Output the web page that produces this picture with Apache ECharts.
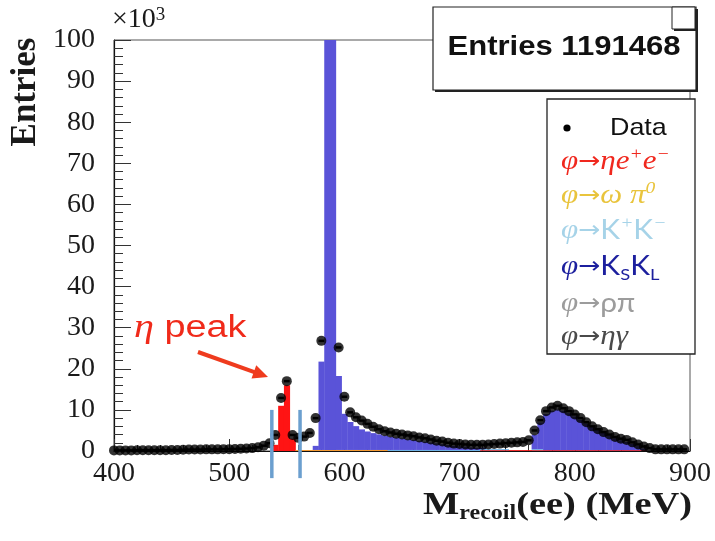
<!DOCTYPE html>
<html>
<head>
<meta charset="utf-8">
<script src="https://cdn.jsdelivr.net/npm/echarts@6/dist/echarts.min.js"></script>
<style>
  html, body { margin: 0; padding: 0; background: #fff; }
  #chart { width: 715px; height: 541px; }
</style>
</head>
<body>
<div id="chart"></div>
<script>
// Recoil-mass histogram: 5 MeV bins centred on multiples of 5 MeV, counts in units of 10^3
const binStart = 400;
const binWidth = 5;

// Measured entries per bin (x10^3), bins 400 ... 895 MeV
const dataCounts = [
  0.15, 0.15, 0.15, 0.15, 0.2, 0.2, 0.2, 0.2, 0.2, 0.2,
  0.25, 0.25, 0.3, 0.35, 0.35, 0.35, 0.4, 0.4, 0.4, 0.45,
  0.45, 0.5, 0.55, 0.6, 0.7, 0.9, 1.3, 1.9, 3.9, 12.9,
  17.0, 3.9, 3.2, 3.5, 4.4, 8.0, 26.8, 165, 140, 25.2,
  13.2, 9.4, 8.2, 7.4, 6.6, 5.9, 5.3, 4.8, 4.5, 4.2,
  4.0, 3.8, 3.6, 3.3, 3.1, 2.8, 2.5, 2.3, 2.0, 1.8,
  1.7, 1.6, 1.5, 1.5, 1.5, 1.6, 1.7, 1.8, 1.9, 2.0,
  2.1, 2.2, 2.6, 5.0, 7.5, 9.7, 10.6, 11.0, 10.4, 9.7,
  8.9, 8.0, 7.0, 6.0, 5.3, 4.6, 4.0, 3.4, 3.0, 2.7,
  2.1, 1.6, 1.1, 0.7, 0.4, 0.4, 0.4, 0.4, 0.4, 0.4
];

// Simulated components, [bin centre (MeV), entries x10^3], stacked bottom to top
const etaEE = [
  [540, 1.5], [545, 11.0], [550, 16.0], [555, 3.0],
  [720, 0.2], [725, 0.2], [730, 0.2], [735, 0.2], [740, 0.2], [745, 0.2], [750, 0.2],
  [755, 0.2], [760, 0.2], [765, 0.2], [770, 0.2], [775, 0.2], [780, 0.2], [785, 0.2],
  [790, 0.2], [795, 0.2], [800, 0.2], [805, 0.2], [810, 0.2], [815, 0.2], [820, 0.2],
  [825, 0.2], [830, 0.2], [835, 0.2], [840, 0.2], [845, 0.2], [850, 0.2], [855, 0.2], [860, 0.2]
];
const omegaPi0 = [
  [560, 0.25], [565, 0.25], [570, 0.25], [575, 0.25], [580, 0.25], [585, 0.25], [590, 0.25],
  [595, 0.25], [600, 0.25], [605, 0.25], [610, 0.25], [615, 0.25], [620, 0.25], [625, 0.25],
  [630, 0.25], [635, 0.25]
];
const kPlusKMinus = [
  [640, 0.25], [645, 0.25], [650, 0.25], [655, 0.25], [660, 0.25], [665, 0.25], [670, 0.25],
  [675, 0.25], [680, 0.25], [685, 0.25], [690, 0.25], [695, 0.25], [700, 0.25], [705, 0.25],
  [710, 0.25], [715, 0.25], [720, 0.25], [725, 0.25], [730, 0.25], [735, 0.25], [740, 0.25],
  [765, 0.25], [770, 0.25]
];
const kSkL = [
  [575, 1.0], [580, 21.5], [585, 160], [590, 135], [595, 18.0], [600, 8.8], [605, 6.8],
  [610, 5.8], [615, 5.0], [620, 4.5], [625, 4.1], [630, 3.8], [635, 3.5], [640, 3.2],
  [645, 3.0], [650, 2.8], [655, 2.6], [660, 2.4], [665, 2.2], [670, 2.0], [675, 1.8],
  [680, 1.6], [685, 1.4], [690, 1.2], [695, 1.0], [700, 0.9], [705, 0.8], [710, 0.6],
  [715, 0.5], [720, 0.3],
  [765, 3.5], [770, 6.5], [775, 8.8], [780, 9.6], [785, 9.9], [790, 9.6], [795, 9.0],
  [800, 8.2], [805, 7.4], [810, 6.5], [815, 5.6], [820, 4.9], [825, 4.2], [830, 3.5],
  [835, 2.9], [840, 2.4], [845, 2.0], [850, 1.5], [855, 1.0], [860, 0.4]
];
const rhoPi = [];
const etaGamma = [];

// Signal-window edges around the eta peak (MeV)
const etaWindow = [537, 561.5];

// Axis ticks
const xTicks = { min: 400, max: 900, step: 100 };
const yTicks = { min: 0, max: 100, step: 10 };

const components = [
  { name: 'φ→ηe+e−', bins: etaEE, color: '#ff1414' },
  { name: 'φ→ωπ0', bins: omegaPi0, color: '#f39a32' },
  { name: 'φ→K+K−', bins: kPlusKMinus, color: '#6eb2e6' },
  { name: 'φ→KSKL', bins: kSkL, color: '#5a53d8' },
  { name: 'φ→ρπ', bins: rhoPi, color: '#9a9a9a' },
  { name: 'φ→ηγ', bins: etaGamma, color: '#555555' }
];

function histItem(params, api) {
  const x = api.value(0), lo = api.value(1), hi = api.value(2);
  const a = api.coord([x - binWidth / 2, hi]);
  const b = api.coord([x + binWidth / 2, lo]);
  const cs = params.coordSys;
  const shape = echarts.graphic.clipRectByRect(
    { x: a[0], y: a[1], width: b[0] - a[0] + 0.4, height: b[1] - a[1] },
    { x: cs.x, y: cs.y, width: cs.width, height: cs.height }
  );
  return shape && { type: 'rect', shape: shape, style: { fill: api.visual('color') } };
}

const stackTop = {};
const histSeries = components.map(c => {
  const rows = c.bins.map(([x, v]) => {
    const lo = stackTop[x] || 0;
    stackTop[x] = lo + v;
    return [x, lo, lo + v];
  });
  return {
    type: 'custom', name: c.name, renderItem: histItem,
    encode: { x: 0, y: [1, 2] }, data: rows,
    itemStyle: { color: c.color }, silent: true, z: 2
  };
});

const dataPoints = dataCounts.map((v, i) => [binStart + i * binWidth, v]);

// Horizontal bin-width bars through each data point
const binBars = {
  type: 'custom', silent: true, z: 4, clip: true,
  data: dataPoints, encode: { x: 0, y: 1 },
  renderItem: function (params, api) {
    const x = api.value(0), y = api.value(1);
    const p0 = api.coord([x - binWidth / 2, y]);
    const p1 = api.coord([x + binWidth / 2, y]);
    return { type: 'line', shape: { x1: p0[0], y1: p0[1], x2: p1[0], y2: p1[1] },
             style: { stroke: '#000', lineWidth: 2.5 } };
  }
};

const windowSeries = {
  type: 'custom', silent: true, z: 6, clip: false,
  data: etaWindow.map(x => [x, 10, -6.6]),
  encode: { x: 0, y: [1, 2] },
  renderItem: function (params, api) {
    const p0 = api.coord([api.value(0), api.value(1)]);
    const p1 = api.coord([api.value(0), api.value(2)]);
    return { type: 'line', shape: { x1: p0[0], y1: p0[1], x2: p1[0], y2: p1[1] },
             style: { stroke: '#6b9fcf', lineWidth: 3.5 } };
  }
};

const serif = 'Liberation Serif';
const labelStyle = { fontFamily: serif, fontSize: 28, color: '#1a1a1a' };

// Arrow pointing at the eta peak
const arrowFrom = [198, 352], arrowTo = [268, 377];
const ux = arrowTo[0] - arrowFrom[0], uy = arrowTo[1] - arrowFrom[1];
const ulen = Math.hypot(ux, uy);
const dx = ux / ulen, dy = uy / ulen;
const headLen = 15, headHalf = 7;
const bx = arrowTo[0] - dx * headLen, by = arrowTo[1] - dy * headLen;

const legendRows = [
  { text: '{g|φ}{a|→}{g|η}{g|e}{sup|+}{g|e}{sup|−}', color: '#f0281e' },
  { text: '{g|φ}{a|→}{g|ω π}{sup|0}', color: '#e9c43c' },
  { text: '{g|φ}{a|→}{k|K}{sup|+}{k|K}{sup|−}', color: '#a6d3e8' },
  { text: '{g|φ}{a|→}{k|K}{sub|S}{k|K}{sub|L}', color: '#1c1f9e' },
  { text: '{g|φ}{a|→}{k|ρπ}', color: '#9c9c9c' },
  { text: '{g|φ}{a|→}{g|ηγ}', color: '#4a4a4a' }
];
const legendY = [162, 196, 231, 267, 304, 337];
const legendRich = {
  g: { fontFamily: serif, fontStyle: 'italic', fontSize: 27, lineHeight: 32 },
  a: { fontFamily: 'DejaVu Sans', fontSize: 23, lineHeight: 32 },
  k: { fontFamily: 'Lato', fontSize: 26, lineHeight: 32 },
  sup: { fontFamily: serif, fontStyle: 'italic', fontSize: 17, lineHeight: 17, verticalAlign: 'top' },
  sub: { fontFamily: 'Lato', fontSize: 16, lineHeight: 16, verticalAlign: 'bottom' }
};

const graphics = [
  // y-axis title and exponent
  { type: 'text', x: 26, y: 92, rotation: Math.PI / 2, z: 10,
    style: { text: 'Entries', fontFamily: serif, fontWeight: 'bold', fontSize: 35,
             fill: '#1a1a1a', align: 'center', verticalAlign: 'middle' } },
  { type: 'text', x: 112, y: 6, z: 10,
    style: { text: '×10{s|3}', fontFamily: serif, fontSize: 28, fill: '#1a1a1a',
             rich: { s: { fontFamily: serif, fontSize: 19, verticalAlign: 'top', lineHeight: 14 } } } },
  // x-axis title
  { type: 'text', x: 692, y: 506, z: 10, scaleX: 1.2,
    style: { text: 'M{s|recoil}(ee) (MeV)', fontFamily: serif, fontWeight: 'bold', fontSize: 32,
             fill: '#1a1a1a', align: 'right', verticalAlign: 'middle', lineHeight: 36,
             rich: { s: { fontFamily: serif, fontWeight: 'bold', fontSize: 20, lineHeight: 16, verticalAlign: 'bottom' } } } },
  // statistics box
  { type: 'rect', z: 20, shape: { x: 435, y: 9, width: 263, height: 83 }, style: { fill: '#222' } },
  { type: 'rect', z: 21, shape: { x: 433, y: 7, width: 263, height: 83 },
    style: { fill: '#fff', stroke: '#222', lineWidth: 1.2 } },
  { type: 'rect', z: 22, shape: { x: 674, y: 9, width: 23, height: 22 }, style: { fill: '#222' } },
  { type: 'rect', z: 23, shape: { x: 672, y: 7, width: 23, height: 22 },
    style: { fill: '#fff', stroke: '#222', lineWidth: 1 } },
  { type: 'text', z: 24, x: 564, y: 48, scaleX: 1.15,
    style: { text: 'Entries 1191468', fontFamily: 'Liberation Sans', fontWeight: 'bold', fontSize: 27,
             fill: '#111', align: 'center', verticalAlign: 'middle' } },
  // legend box
  { type: 'rect', z: 20, shape: { x: 547, y: 99, width: 148, height: 255 },
    style: { fill: '#fff', stroke: '#222', lineWidth: 1.3 } },
  { type: 'circle', z: 21, shape: { cx: 567, cy: 128, r: 3.6 }, style: { fill: '#000' } },
  { type: 'text', z: 21, x: 610, y: 128, scaleX: 1.12,
    style: { text: 'Data', fontFamily: 'Liberation Sans', fontSize: 24, fill: '#111', verticalAlign: 'middle' } }
].concat(legendRows.map((r, i) => ({
  type: 'text', z: 21, x: 561, y: legendY[i], scaleX: 1.15,
  style: { text: r.text, fill: r.color, verticalAlign: 'middle', rich: legendRich }
}))).concat([
  // eta peak annotation
  { type: 'text', z: 15, x: 134, y: 328, scaleX: 1.22,
    style: { text: '{g|η} peak', fontFamily: 'Liberation Sans', fontSize: 31, fill: '#f02a1a',
             verticalAlign: 'middle',
             rich: { g: { fontFamily: serif, fontStyle: 'italic', fontSize: 33, fill: '#f02a1a' } } } },
  { type: 'line', z: 15, shape: { x1: arrowFrom[0], y1: arrowFrom[1], x2: bx + dx * 2, y2: by + dy * 2 },
    style: { stroke: '#ef3b1e', lineWidth: 4 } },
  { type: 'polygon', z: 15,
    shape: { points: [arrowTo, [bx - dy * headHalf, by + dx * headHalf], [bx + dy * headHalf, by - dx * headHalf]] },
    style: { fill: '#ef3b1e' } }
]);

const chart = echarts.init(document.getElementById('chart'), null, { renderer: 'canvas' });
chart.setOption({
  animation: false,
  backgroundColor: '#fff',
  grid: { left: 114, right: 25, top: 40, bottom: 90, show: true, borderColor: '#555', borderWidth: 1, backgroundColor: 'transparent' },
  xAxis: {
    type: 'value', min: xTicks.min, max: xTicks.max, interval: xTicks.step,
    axisLine: { show: true, onZero: false, lineStyle: { color: '#111', width: 1.2 } },
    axisTick: { show: true, inside: true, length: 12, lineStyle: { color: '#333', width: 1 } },
    minorTick: { show: true, splitNumber: 5, length: 6, lineStyle: { color: '#333', width: 1 } },
    axisLabel: Object.assign({ margin: 9, showMaxLabel: true, showMinLabel: true }, labelStyle),
    splitLine: { show: false }
  },
  yAxis: {
    type: 'value', min: yTicks.min, max: yTicks.max, interval: yTicks.step,
    axisLine: { show: true, lineStyle: { color: '#111', width: 1.2 } },
    axisTick: { show: true, inside: true, length: 17, lineStyle: { color: '#333', width: 1 } },
    minorTick: { show: true, splitNumber: 5, length: 9, lineStyle: { color: '#333', width: 1 } },
    axisLabel: Object.assign({ margin: 19 }, labelStyle),
    splitLine: { show: false }
  },
  series: histSeries.concat([
    binBars,
    {
      type: 'scatter', name: 'Data', data: dataPoints, symbol: 'circle', symbolSize: 10,
      itemStyle: { color: '#000' }, clip: true, silent: true, z: 5
    },
    windowSeries
  ]),
  graphic: graphics
});
</script>
</body>
</html>
